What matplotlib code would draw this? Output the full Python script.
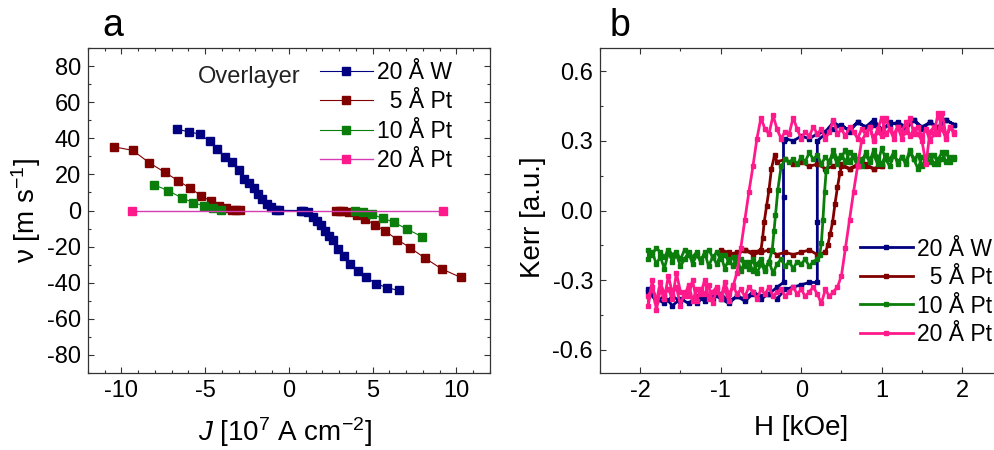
import matplotlib
matplotlib.use("Agg")
import matplotlib.pyplot as plt
from matplotlib.ticker import MultipleLocator, FormatStrFormatter

plt.rcParams["font.family"] = ["Liberation Sans", "DejaVu Sans"]
plt.rcParams["mathtext.fontset"] = "custom"
plt.rcParams["mathtext.rm"] = "Liberation Sans"
plt.rcParams["mathtext.it"] = "Liberation Sans:italic"
plt.rcParams["axes.unicode_minus"] = False

# ---- panel a: domain wall velocity vs current density ----
LABELS = ["20 Å W", "  5 Å Pt", "10 Å Pt", "20 Å Pt"]

W20_J = [-6.71, -5.98, -5.33, -4.74, -4.27, -3.79, -3.38, -3.01, -2.71, -2.40,
         -2.10, -1.84, -1.61, -1.33, -1.08, -0.80, -0.60,
         0.70, 0.85, 1.13, 1.43, 1.66, 1.92, 2.16, 2.41, 2.61, 2.92, 3.30, 3.65,
         4.12, 4.62, 5.21, 5.86, 6.55]
W20_V = [45.1, 43.6, 42.3, 38.4, 34.2, 29.5, 27.0, 22.2, 17.7, 15.0,
         12.2, 9.2, 6.5, 3.5, 1.8, 0.5, 0.1,
         0.0, -0.2, -1.1, -3.7, -5.9, -8.3, -11.1, -14.0, -16.6, -21.4, -25.1, -29.5,
         -33.3, -37.1, -40.6, -42.7, -44.3]

PT5_J = [-10.45, -9.33, -8.33, -7.42, -6.63, -5.88, -5.25, -4.68, -4.17, -3.75,
         -3.38, -3.15, -2.95,
         2.80, 3.05, 3.20, 3.59, 4.09, 4.54, 5.13, 5.76, 6.47, 7.24, 8.13, 9.11, 10.25]
PT5_V = [35.3, 33.3, 26.4, 21.2, 16.6, 12.2, 8.3, 5.2, 2.6, 1.3,
         0.5, 0.2, 0.1,
         0.0, -0.1, -0.2, -0.7, -2.4, -4.8, -7.8, -11.5, -16.1, -20.7, -26.4, -32.3, -37.0]

PT10_J = [-8.07, -7.20, -6.39, -5.72, -5.07, -4.54, -4.07,
          3.95, 4.42, 4.97, 5.60, 6.27, 7.02, 7.93]
PT10_V = [14.4, 10.9, 7.0, 4.4, 2.6, 1.3, 0.4,
          0.0, -0.7, -2.2, -4.3, -6.5, -10.2, -14.4]

PT20_J = [-9.37, 9.20]
PT20_V = [0.0, 0.0]

# ---- panel b: Kerr hysteresis loops (DOWN = field swept + to -, UP = - to +) ----
W20_DOWN_H = [1.9, 1.8, 1.7, 1.6, 1.5, 1.4, 1.3, 1.2, 1.1, 1.0, 0.9, 0.8, 0.7, 0.6,
              0.5, 0.4, 0.3, 0.2, 0.1, 0.0, -0.1, -0.2, -0.22, -0.22, -0.22,
              -0.3, -0.4, -0.5, -0.6, -0.7, -0.8, -0.9, -1.0, -1.1, -1.2, -1.3,
              -1.4, -1.5, -1.6, -1.7, -1.8, -1.9]
W20_DOWN_K = [0.37, 0.39, 0.35, 0.38, 0.36, 0.39, 0.35, 0.37, 0.38, 0.34, 0.37, 0.36,
              0.38, 0.35, 0.36, 0.38, 0.34, 0.33, 0.31, 0.32, 0.30, 0.31, 0.30, 0.06,
              -0.31, -0.33, -0.36, -0.38, -0.36, -0.39, -0.37, -0.40, -0.38, -0.36,
              -0.39, -0.37, -0.40, -0.38, -0.41, -0.37, -0.39, -0.35]
W20_UP_H = [-1.9, -1.8, -1.7, -1.6, -1.5, -1.4, -1.3, -1.2, -1.1, -1.0, -0.9, -0.8,
            -0.7, -0.6, -0.5, -0.4, -0.3, -0.2, -0.1, 0.0, 0.1, 0.2, 0.2, 0.2,
            0.3, 0.4, 0.5, 0.6, 0.7, 0.8, 0.9, 1.0, 1.1, 1.2, 1.3, 1.4, 1.5, 1.6,
            1.7, 1.8, 1.9]
W20_UP_K = [-0.34, -0.38, -0.40, -0.37, -0.39, -0.36, -0.40, -0.37, -0.38, -0.36,
            -0.39, -0.37, -0.38, -0.35, -0.37, -0.36, -0.38, -0.34, -0.33, -0.32,
            -0.31, -0.31, -0.05, 0.30, 0.33, 0.35, 0.37, 0.34, 0.38, 0.36, 0.39,
            0.35, 0.37, 0.38, 0.36, 0.39, 0.35, 0.38, 0.36, 0.39, 0.37]

PT5_DOWN_H = [1.0, 0.9, 0.8, 0.7, 0.6, 0.5, 0.4, 0.3, 0.2, 0.1, 0.0, -0.1, -0.2,
              -0.3, -0.33, -0.37, -0.40, -0.43, -0.46, -0.48, -0.5, -0.6, -0.7,
              -0.8, -0.9, -1.0]
PT5_DOWN_K = [0.19, 0.18, 0.20, 0.19, 0.18, 0.20, 0.19, 0.18, 0.20, 0.19, 0.21,
              0.20, 0.22, 0.21, 0.24, 0.18, 0.09, 0.02, -0.05, -0.12, -0.17,
              -0.18, -0.17, -0.19, -0.18, -0.17]
PT5_UP_H = [-1.0, -0.9, -0.8, -0.7, -0.6, -0.5, -0.4, -0.3, -0.2, -0.1, 0.0, 0.1,
            0.2, 0.3, 0.33, 0.36, 0.39, 0.42, 0.45, 0.48, 0.5, 0.6, 0.7, 0.8,
            0.9, 1.0]
PT5_UP_K = [-0.18, -0.19, -0.18, -0.17, -0.19, -0.18, -0.17, -0.19, -0.18, -0.19,
            -0.18, -0.17, -0.19, -0.18, -0.15, -0.10, -0.05, 0.03, 0.10, 0.16,
            0.19, 0.18, 0.20, 0.19, 0.18, 0.19]

PT10_DOWN_H = [1.90, 1.85, 1.80, 1.75, 1.70, 1.65, 1.60, 1.55, 1.50, 1.45, 1.40,
               1.35, 1.30, 1.25, 1.20, 1.15, 1.10, 1.05, 1.00, 0.95, 0.90, 0.85,
               0.80, 0.75, 0.70, 0.65, 0.60, 0.55, 0.50, 0.45, 0.40, 0.35, 0.30,
               0.25, 0.20, 0.15, 0.10, 0.05, 0.00, -0.05, -0.10, -0.15, -0.20,
               -0.25, -0.29, -0.32, -0.34, -0.36,
               -0.40, -0.45, -0.50, -0.55, -0.60, -0.65, -0.70, -0.75, -0.80,
               -0.85, -0.90, -0.95, -1.00, -1.05, -1.10, -1.15, -1.20, -1.25,
               -1.30, -1.35, -1.40, -1.45, -1.50, -1.55, -1.60, -1.65, -1.70,
               -1.75, -1.80, -1.85, -1.90]
PT10_DOWN_K = [0.23, 0.21, 0.25, 0.22, 0.20, 0.24, 0.21, 0.23, 0.19, 0.24, 0.22,
               0.26, 0.21, 0.23, 0.20, 0.25, 0.22, 0.24, 0.20, 0.23, 0.26, 0.21,
               0.24, 0.22, 0.19, 0.23, 0.25, 0.21, 0.24, 0.22, 0.26, 0.21, 0.23,
               0.20, 0.24, 0.22, 0.25, 0.21, 0.23, 0.20, 0.22, 0.21, 0.22,
               0.19, 0.09, -0.02, -0.09, -0.17,
               -0.22, -0.26, -0.23, -0.27, -0.21, -0.25, -0.22, -0.26, -0.20,
               -0.24, -0.21, -0.25, -0.19, -0.23, -0.20, -0.24, -0.18, -0.22,
               -0.19, -0.23, -0.18, -0.21, -0.24, -0.19, -0.22, -0.18, -0.25,
               -0.20, -0.23, -0.18, -0.21]
PT10_UP_H = [-1.90, -1.85, -1.80, -1.75, -1.70, -1.65, -1.60, -1.55, -1.50, -1.45,
             -1.40, -1.35, -1.30, -1.25, -1.20, -1.15, -1.10, -1.05, -1.00, -0.95,
             -0.90, -0.85, -0.80, -0.75, -0.70, -0.65, -0.60, -0.55, -0.50, -0.45,
             -0.40, -0.35, -0.30, -0.25, -0.20, -0.15, -0.10, -0.05, 0.00, 0.05,
             0.10, 0.15, 0.20,
             0.23, 0.25, 0.27, 0.29, 0.31,
             0.35, 0.40, 0.45, 0.50, 0.55, 0.60, 0.65, 0.70, 0.75, 0.80, 0.85,
             0.90, 0.95, 1.00, 1.05, 1.10, 1.15, 1.20, 1.25, 1.30, 1.35, 1.40,
             1.45, 1.50, 1.55, 1.60, 1.65, 1.70, 1.75, 1.80, 1.85, 1.90]
PT10_UP_K = [-0.17, -0.19, -0.16, -0.18, -0.20, -0.17, -0.19, -0.18, -0.21, -0.17,
             -0.19, -0.20, -0.18, -0.21, -0.19, -0.17, -0.20, -0.18, -0.21, -0.19,
             -0.22, -0.20, -0.23, -0.21, -0.24, -0.22, -0.26, -0.23, -0.21, -0.25,
             -0.22, -0.27, -0.23, -0.21, -0.24, -0.22, -0.25, -0.22, -0.23, -0.21,
             -0.24, -0.22, -0.21,
             -0.19, -0.14, -0.04, 0.08, 0.17,
             0.21, 0.24, 0.20, 0.23, 0.26, 0.21, 0.24, 0.22, 0.19, 0.25, 0.22,
             0.24, 0.20, 0.27, 0.22, 0.19, 0.24, 0.21, 0.23, 0.20, 0.25, 0.22,
             0.18, 0.23, 0.21, 0.24, 0.20, 0.22, 0.25, 0.21, 0.23, 0.22]

PT20_DOWN_H = [1.90, 1.85, 1.80, 1.75, 1.70, 1.65, 1.60, 1.55, 1.50, 1.45, 1.40,
               1.35, 1.30, 1.25, 1.20, 1.15, 1.10, 1.05, 1.00, 0.95, 0.90, 0.85,
               0.80, 0.75, 0.70, 0.65, 0.60, 0.55, 0.50, 0.45, 0.40, 0.35, 0.30,
               0.25, 0.20, 0.15, 0.10, 0.05, 0.00, -0.05, -0.10, -0.15, -0.20,
               -0.25, -0.30, -0.35, -0.40, -0.45, -0.50, -0.55,
               -0.60, -0.65, -0.70, -0.75, -0.80,
               -0.85, -0.90, -0.95, -1.00, -1.05, -1.10, -1.15, -1.20, -1.25,
               -1.30, -1.35, -1.40, -1.45, -1.50, -1.55, -1.60, -1.65, -1.70,
               -1.75, -1.80, -1.85, -1.90]
PT20_DOWN_K = [0.34, 0.36, 0.31, 0.35, 0.42, 0.33, 0.30, 0.35, 0.32, 0.36, 0.33,
               0.40, 0.34, 0.31, 0.36, 0.33, 0.35, 0.40, 0.32, 0.34, 0.30, 0.36,
               0.33, 0.35, 0.31, 0.34, 0.36, 0.32, 0.35, 0.33, 0.39, 0.34, 0.31,
               0.35, 0.33, 0.36, 0.32, 0.34, 0.31, 0.35, 0.40, 0.33, 0.34,
               0.31, 0.35, 0.41, 0.33, 0.35, 0.40, 0.31,
               0.19, 0.08, -0.04, -0.16, -0.27,
               -0.33, -0.36, -0.31, -0.38, -0.34, -0.40, -0.32, -0.36, -0.34,
               -0.39, -0.30, -0.37, -0.35, -0.41, -0.33, -0.36, -0.28, -0.38,
               -0.34, -0.43, -0.30, -0.41]
PT20_UP_H = [-1.90, -1.85, -1.80, -1.75, -1.70, -1.65, -1.60, -1.55, -1.50, -1.45,
             -1.40, -1.35, -1.30, -1.25, -1.20, -1.15, -1.10, -1.05, -1.00, -0.95,
             -0.90, -0.85, -0.80, -0.75, -0.70, -0.65, -0.60, -0.55, -0.50, -0.45,
             -0.40, -0.35, -0.30, -0.25, -0.20, -0.15, -0.10, -0.05, 0.00, 0.05,
             0.10, 0.15, 0.20, 0.25, 0.30, 0.35, 0.40, 0.45,
             0.50, 0.55, 0.60, 0.65, 0.70, 0.75,
             0.80, 0.85, 0.90, 0.95, 1.00, 1.05, 1.10, 1.15, 1.20, 1.25, 1.30,
             1.35, 1.40, 1.45, 1.50, 1.55, 1.60, 1.65, 1.70, 1.75, 1.80, 1.85,
             1.90]
PT20_UP_K = [-0.37, -0.33, -0.39, -0.31, -0.36, -0.34, -0.38, -0.27, -0.35, -0.37,
             -0.32, -0.39, -0.34, -0.36, -0.30, -0.38, -0.35, -0.33, -0.37, -0.34,
             -0.39, -0.32, -0.36, -0.34, -0.37, -0.33, -0.35, -0.38, -0.34, -0.36,
             -0.33, -0.37, -0.35, -0.34, -0.37, -0.35, -0.33, -0.36, -0.34, -0.37,
             -0.35, -0.33, -0.36, -0.40, -0.34, -0.37, -0.35, -0.33,
             -0.28, -0.16, -0.04, 0.08, 0.19, 0.30,
             0.33, 0.36, 0.31, 0.35, 0.40, 0.33, 0.35, 0.31, 0.36, 0.34, 0.38,
             0.32, 0.35, 0.33, 0.30, 0.20, 0.34, 0.36, 0.33, 0.42, 0.32, 0.36,
             0.33]

BLUE, RED, GREEN, PINK = "#000080", "#800000", "#0a7d0a", "#ff1a8c"

fig = plt.figure(figsize=(9.95, 4.5), dpi=100)
ax1 = fig.add_axes([0.0884, 0.1711, 0.404, 0.7222])
ax2 = fig.add_axes([0.603, 0.1711, 0.4045, 0.7222])

# panel a
ax1.plot(W20_J, W20_V, "-s", color=BLUE, lw=0.8, ms=6, label=LABELS[0])
ax1.plot(PT5_J[:13], PT5_V[:13], "-s", color=RED, lw=0.8, ms=6, label=LABELS[1])
ax1.plot(PT5_J[13:], PT5_V[13:], "-s", color=RED, lw=0.8, ms=6)
ax1.plot(PT10_J[:7], PT10_V[:7], "-s", color=GREEN, lw=0.8, ms=6, label=LABELS[2])
ax1.plot(PT10_J[7:], PT10_V[7:], "-s", color=GREEN, lw=0.8, ms=6)
ax1.plot(PT20_J, PT20_V, "-s", color="#d63cb4", mfc=PINK, mec=PINK, lw=1.0, ms=6,
         label=LABELS[3])
ax1.set_xlim(-12, 12)
ax1.set_ylim(-90, 90)
ax1.xaxis.set_major_locator(MultipleLocator(5))
ax1.xaxis.set_minor_locator(MultipleLocator(1))
ax1.yaxis.set_major_locator(MultipleLocator(20))
ax1.yaxis.set_minor_locator(MultipleLocator(10))
ax1.set_xlabel(r"$\mathit{J}$ [10$^{7}$ A cm$^{-2}$]", fontsize=20)
ax1.set_ylabel(r"ν [m s$^{-1}$]", fontsize=20)
ax1.xaxis.set_label_coords(0.49, -0.13)
ax1.yaxis.set_label_coords(-0.112, 0.5)
ax1.text(0.274, 0.911, "Overlayer", transform=ax1.transAxes, fontsize=17,
         va="center", ha="left", color="#222222")
ax1.legend(loc="center left", bbox_to_anchor=(0.577, 0.789), frameon=False,
           fontsize=16.5, handlelength=2.3, handletextpad=0.17, labelspacing=0.28,
           borderpad=0, borderaxespad=0)
ax1.text(0.1025, 0.92, "a", transform=fig.transFigure, fontsize=27,
         va="baseline", ha="left")

# panel b
for h_d, k_d, h_u, k_u, c, lab in [
        (W20_DOWN_H, W20_DOWN_K, W20_UP_H, W20_UP_K, BLUE, LABELS[0]),
        (PT5_DOWN_H, PT5_DOWN_K, PT5_UP_H, PT5_UP_K, RED, LABELS[1]),
        (PT10_DOWN_H, PT10_DOWN_K, PT10_UP_H, PT10_UP_K, GREEN, LABELS[2]),
        (PT20_DOWN_H, PT20_DOWN_K, PT20_UP_H, PT20_UP_K, PINK, LABELS[3])]:
    ax2.plot(h_d + h_u, k_d + k_u, "-s", color=c, lw=2.0, ms=3, label=lab)
ax2.set_xlim(-2.5, 2.5)
ax2.set_ylim(-0.7, 0.7)
ax2.xaxis.set_major_locator(MultipleLocator(1))
ax2.xaxis.set_minor_locator(MultipleLocator(0.5))
ax2.yaxis.set_major_locator(MultipleLocator(0.3))
ax2.yaxis.set_minor_locator(MultipleLocator(0.15))
ax2.yaxis.set_major_formatter(FormatStrFormatter("%.1f"))
ax2.set_xlabel("H [kOe]", fontsize=20)
ax2.set_ylabel("Kerr [a.u.]", fontsize=20)
ax2.xaxis.set_label_coords(0.5, -0.13)
ax2.yaxis.set_label_coords(-0.135, 0.48)
ax2.legend(loc="center left", bbox_to_anchor=(0.646, 0.25), frameon=False,
           fontsize=16.5, handlelength=2.3, handletextpad=0.17, labelspacing=0.24,
           borderpad=0, borderaxespad=0)
ax2.text(0.613, 0.92, "b", transform=fig.transFigure, fontsize=27,
         va="baseline", ha="left")

for ax in (ax1, ax2):
    ax.tick_params(which="both", direction="in", top=True, right=True,
                   labelsize=17, pad=5, color="#333333")
    ax.tick_params(which="major", length=4.5, width=0.8)
    ax.tick_params(which="minor", length=2.5, width=0.8)
    for sp in ax.spines.values():
        sp.set_linewidth(0.9)
        sp.set_color("#333333")

fig.savefig("out.png", dpi=100, facecolor="white")
